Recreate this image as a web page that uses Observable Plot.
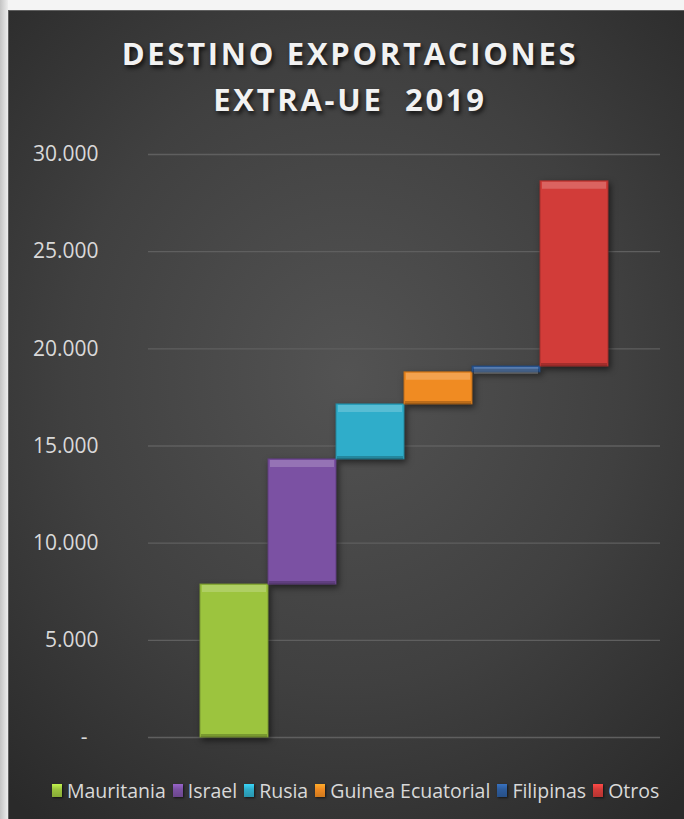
<!DOCTYPE html>
<html><head><meta charset="utf-8">
<script src="https://cdn.jsdelivr.net/npm/d3@7"></script>
<script src="https://cdn.jsdelivr.net/npm/@observablehq/plot@0.6"></script>
<style>
html,body{margin:0;padding:0;background:#f3f3f3;}
#page{position:relative;width:684px;height:819px;overflow:hidden;background:#f4f4f4;font-family:'Open Sans',sans-serif;}
#strip{position:absolute;left:0;top:0;width:8px;height:819px;background:linear-gradient(to right,#c4c4c4,#ededed);}
#panel{position:absolute;left:8px;top:10px;width:676px;height:809px;box-sizing:border-box;border-left:1px solid #606060;border-top:1px solid #606060;
  background:radial-gradient(ellipse 75% 70% at 50% 45%, #535353 0%, #404040 55%, #2a2a2a 100%);}
#title{position:absolute;left:12px;top:30px;width:676px;text-align:center;color:#f2f2f2;font-weight:700;font-size:31px;line-height:46px;letter-spacing:2.7px;white-space:pre;text-shadow:2px 3px 4px rgba(0,0,0,0.7);}
#chart{position:absolute;left:0;top:0;}
#legend{position:absolute;left:52px;top:777px;height:26px;display:flex;align-items:center;color:#d9d9d9;font-size:19.5px;white-space:nowrap;}
#legend .item{display:flex;align-items:center;margin-right:7px;}
#legend .sw{width:10px;height:13px;margin-right:5px;box-shadow:1px 1px 2px rgba(0,0,0,0.6);}
</style>
</head>
<body>
<div id="page">
  <div id="strip"></div>
  <div id="panel"></div>
  <div id="title"></div>
  <div id="chart"></div>
  <div id="legend"></div>
</div>
<script>
const titleLines = ["DESTINO EXPORTACIONES", "EXTRA-UE  2019"];
const categories = ["Mauritania", "Israel", "Rusia", "Guinea Ecuatorial", "Filipinas", "Otros"];
const values = [7870, 6440, 2830, 1650, 300, 9530];
const colors = ["#9cc43e", "#7b51a3", "#2fadca", "#f08b22", "#2d5c9c", "#d23c39"];
const yTicks = [0, 5000, 10000, 15000, 20000, 25000, 30000];
const yTickLabels = ["-\u00a0\u00a0", "5.000", "10.000", "15.000", "20.000", "25.000", "30.000"];

document.getElementById("title").innerHTML = titleLines.map(t => `<div>${t}</div>`).join("");

let acc = 0;
const data = categories.map((c, i) => {
  const d = {cat: c, y1: acc, y2: acc + values[i], color: colors[i], edge: d3.color(colors[i]).darker(0.7).formatHex()};
  acc += values[i];
  return d;
});

const chart = Plot.plot({
  width: 684, height: 819,
  marginLeft: 148, marginRight: 24, marginTop: 154, marginBottom: 82,
  style: {background: "transparent", color: "#d9d9d9", fontFamily: "'Open Sans', sans-serif", fontSize: "21px", overflow: "visible"},
  x: {domain: categories, padding: 0, insetLeft: 50, insetRight: 50, axis: null},
  y: {domain: [0, 30000], axis: null},
  marks: [
    Plot.ruleY(yTicks, {stroke: "#5f5f5f", strokeWidth: 1.3}),
    Plot.axisY(yTicks, {tickSize: 0, tickPadding: 50, label: null, fontSize: 21, fill: "#d9d9d9",
      tickFormat: v => yTickLabels[yTicks.indexOf(v)]}),
    Plot.barY(data, {x: "cat", y1: "y1", y2: "y2", fill: "color", stroke: "edge", strokeWidth: 1}),
    Plot.tickY(data, {x: "cat", y: "y2", stroke: "white", strokeOpacity: 0.2, strokeWidth: 7, dy: 4, inset: 2}),
    Plot.tickY(data, {x: "cat", y: "y1", stroke: "black", strokeOpacity: 0.22, strokeWidth: 3, dy: -2, inset: 1})
  ]
});
chart.querySelectorAll('g[aria-label="bar"]').forEach(g => g.style.filter = "drop-shadow(2px 3px 3px rgba(0,0,0,0.55))");
document.getElementById("chart").append(chart);

document.getElementById("legend").innerHTML = categories.map((c, i) =>
  `<div class="item"><div class="sw" style="background:linear-gradient(to bottom, ${d3.color(colors[i]).brighter(0.6)}, ${colors[i]} 40%, ${d3.color(colors[i]).darker(0.4)})"></div><span>${c}</span></div>`
).join("");
</script>
</body></html>
